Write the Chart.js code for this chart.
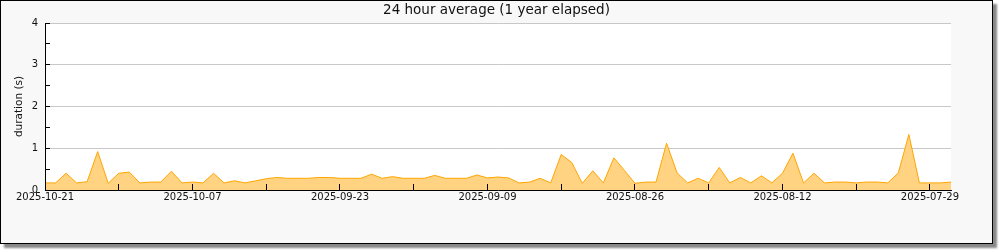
<!DOCTYPE html>
<html>
<head>
<meta charset="utf-8">
<script src="https://cdn.jsdelivr.net/npm/chart.js@4"></script>
<style>
  body { margin: 0; background: #fff; }
  #frame {
    position: absolute; left: 0; top: 0;
    width: 991px; height: 242px;
    border: 1px solid #000;
    background: #f8f8f8;
    box-shadow: 4px 4px 2px #888;
  }
  #chart { display: block; }
</style>
</head>
<body>
<div id="frame"><canvas id="chart" width="991" height="242"></canvas></div>
<script>
// first day shown (left edge); the axis runs backwards in time, one point per day
const startDate = "2025-10-21";
const tickLabels = ["2025-10-21", "2025-10-07", "2025-09-23", "2025-09-09", "2025-08-26", "2025-08-12", "2025-07-29"];
// 24h average duration in seconds, newest first
const durations = [
  0.17, 0.17, 0.40, 0.17, 0.20, 0.92, 0.16, 0.40, 0.43, 0.17,
  0.19, 0.19, 0.45, 0.17, 0.19, 0.17, 0.40, 0.17, 0.22, 0.17,
  0.22, 0.27, 0.30, 0.28, 0.28, 0.28, 0.30, 0.30, 0.28, 0.28,
  0.28, 0.38, 0.28, 0.32, 0.28, 0.28, 0.28, 0.35, 0.28, 0.28,
  0.28, 0.36, 0.29, 0.31, 0.29, 0.17, 0.19, 0.28, 0.17, 0.85,
  0.66, 0.16, 0.46, 0.17, 0.77, 0.47, 0.16, 0.19, 0.19, 1.12,
  0.41, 0.17, 0.28, 0.17, 0.54, 0.17, 0.30, 0.17, 0.34, 0.17,
  0.40, 0.88, 0.17, 0.40, 0.17, 0.19, 0.19, 0.17, 0.19, 0.19,
  0.17, 0.41, 1.33, 0.17, 0.17, 0.17, 0.19
];

// daily category labels, counting back from startDate
const days = [];
const d0 = new Date(startDate + "T00:00:00Z");
for (let i = 0; i < durations.length; i++) {
  const d = new Date(d0.getTime() - i * 86400000);
  days.push(d.toISOString().slice(0, 10));
}

// white plot area
const plotBg = {
  id: "plotBg",
  beforeDraw(chart) {
    const { ctx, chartArea: a } = chart;
    ctx.save();
    ctx.fillStyle = "#fff";
    ctx.fillRect(a.left, a.top, a.right - a.left, a.bottom - a.top);
    ctx.restore();
  },
};

const font = { family: "'DejaVu Sans'", size: 10 };

new Chart(document.getElementById("chart").getContext("2d"), {
  type: "line",
  data: {
    labels: days,
    datasets: [{
      data: durations,
      fill: "origin",
      backgroundColor: "#ffd382",
      borderColor: "#ffa500",
      borderWidth: 1,
      pointRadius: 0,
      tension: 0,
    }],
  },
  options: {
    responsive: false,
    animation: false,
    plugins: {
      legend: { display: false },
      tooltip: { enabled: false },
      title: {
        display: true,
        text: "24 hour average (1 year elapsed)",
        color: "#111",
        font: { family: "'DejaVu Sans'", size: 13.5, weight: "normal" },
        padding: { top: 1.4, bottom: 4.4 },
      },
    },
    scales: {
      x: {
        type: "category",
        afterFit: (s) => { s.height = 53; },
        grid: {
          drawOnChartArea: false,
          tickLength: -6,
          tickColor: (c) => (c.index % 7 === 0 ? "#000" : "rgba(0,0,0,0)"),
          z: 1,
        },
        border: { color: "#000", z: 1 },
        ticks: {
          autoSkip: false,
          maxRotation: 0,
          padding: 7.5,
          color: "#111",
          font: font,
          callback: function (v) {
            const l = this.getLabelForValue(v);
            return tickLabels.includes(l) ? l : "";
          },
        },
      },
      y: {
        min: 0,
        max: 4,
        afterFit: (s) => { s.width = 44; },
        title: {
          display: true,
          text: "duration (s)",
          color: "#111",
          font: { family: "'DejaVu Sans'", size: 10.5 },
          padding: { top: 12.2, bottom: 0 },
        },
        grid: {
          tickLength: -5,
          color: (c) => (c.tick && c.tick.value > 0 && c.tick.value % 1 === 0 ? "#c8c8c8" : "rgba(0,0,0,0)"),
          tickColor: "#000",
        },
        border: { color: "#000", z: 1 },
        ticks: {
          stepSize: 0.5,
          padding: 12,
          color: "#111",
          font: font,
          callback: (v) => (v % 1 === 0 ? String(v) : ""),
        },
      },
      // empty right-hand strip, keeps the title centred on the whole frame
      yRight: {
        position: "right",
        min: 0,
        max: 4,
        afterFit: (s) => { s.width = 41; },
        grid: { display: false },
        border: { display: false },
        ticks: { display: false },
      },
    },
  },
  plugins: [plotBg],
});
</script>
</body>
</html>
